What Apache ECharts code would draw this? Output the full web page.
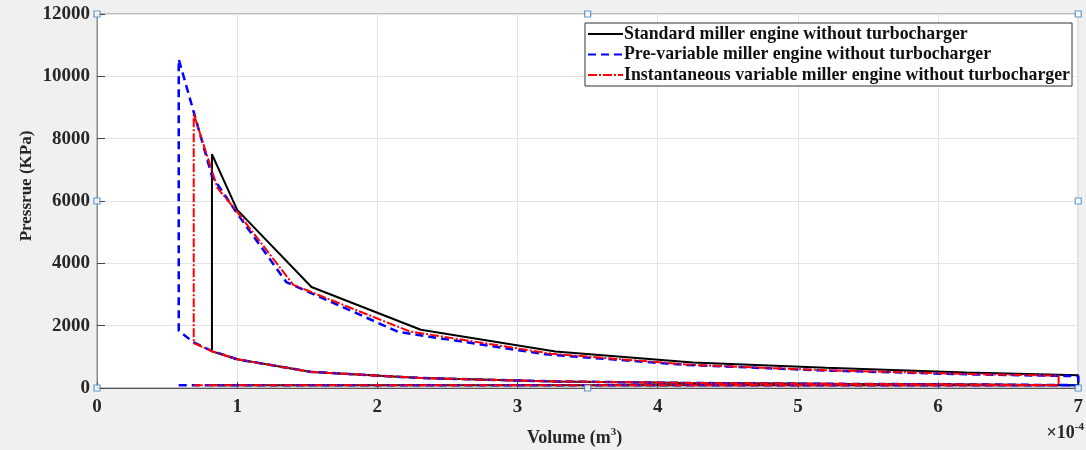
<!DOCTYPE html>
<html>
<head>
<meta charset="utf-8">
<script src="https://cdn.jsdelivr.net/npm/echarts@6/dist/echarts.min.js"></script>
<style>
html,body{margin:0;padding:0;background:#f0f0f0;}
#chart{width:1086px;height:450px;}
</style>
</head>
<body>
<div id="chart"></div>
<script>
// ---- Data (volume in units of 1e-4 m^3, pressure in kPa) ----
const seriesNames = [
  'Standard miller engine without turbocharger',
  'Pre-variable miller engine without turbocharger',
  'Instantaneous variable miller engine without turbocharger'
];
// Standard: intake line, compression, combustion, expansion, blowdown
const stdVolume   = [0.82, 7.0, 7.0, 6.2, 5.2, 4.25, 3.27, 2.31, 1.53, 1.0, 0.82, 0.82, 1.0, 1.53, 2.31, 3.27, 4.25, 5.2, 6.2, 7.0, 7.0];
const stdPressure = [90, 90, 100, 115, 135, 160, 210, 320, 515, 920, 1175, 7500, 5716, 3240, 1870, 1170, 820, 650, 500, 410, 90];
// Pre-variable
const preVolume   = [0.583, 7.0, 7.0, 6.2, 5.2, 4.25, 3.27, 2.31, 1.53, 1.0, 0.82, 0.69, 0.583, 0.583, 0.82, 1.0, 1.35, 2.15, 3.2, 4.2, 5.2, 6.2, 7.0, 7.0];
const prePressure = [90, 90, 100, 115, 135, 160, 210, 320, 515, 920, 1190, 1460, 1840, 10550, 6800, 5600, 3400, 1800, 1080, 740, 560, 440, 380, 90];
// Instantaneous variable
const insVolume   = [0.69, 6.86, 6.86, 6.2, 5.2, 4.25, 3.27, 2.31, 1.53, 1.0, 0.82, 0.69, 0.69, 0.86, 1.0, 1.40, 2.23, 3.24, 4.25, 5.2, 6.2, 6.86, 6.86];
const insPressure = [90, 90, 100, 115, 135, 160, 210, 320, 515, 920, 1180, 1443, 8795, 6410, 5650, 3310, 1815, 1100, 740, 570, 450, 395, 90];

const xTicks = [0, 1, 2, 3, 4, 5, 6, 7];
const yTicks = [0, 2000, 4000, 6000, 8000, 10000, 12000];

const xMin = xTicks[0], xMax = xTicks[xTicks.length - 1];
const yMin = yTicks[0], yMax = yTicks[yTicks.length - 1];

function pairs(xs, ys) { return xs.map((x, i) => [x, ys[i]]); }

// MATLAB-style selection handles at the box corners / edge midpoints
const xMid = (xMin + xMax) / 2, yMid = (yMin + yMax) / 2;
const handles = [
  [xMin, yMin], [xMid, yMin], [xMax, yMin],
  [xMin, yMid], [xMax, yMid],
  [xMin, yMax], [xMid, yMax], [xMax, yMax]
];

const FONT = 'Liberation Serif, "Times New Roman", serif';

const chart = echarts.init(document.getElementById('chart'));
chart.setOption({
  backgroundColor: '#f0f0f0',
  animation: false,
  grid: {
    left: 97, right: 5, top: 14, bottom: 62,
    show: true, backgroundColor: '#ffffff', borderColor: '#8a8a8a', borderWidth: 1
  },
  xAxis: {
    type: 'value', min: xMin, max: xMax, interval: 1,
    axisLine: { show: true, onZero: false, lineStyle: { color: '#555', width: 1 } },
    axisTick: { show: true, inside: true, length: 6, lineStyle: { color: '#444' } },
    axisLabel: { color: '#262626', fontFamily: FONT, fontWeight: 'bold', fontSize: 19, margin: 10,
                 formatter: v => String(v) },
    splitLine: { show: true, lineStyle: { color: '#e3e3e3', width: 1 } }
  },
  yAxis: {
    type: 'value', min: yMin, max: yMax, interval: 2000,
    axisLine: { show: true, lineStyle: { color: '#8a8a8a', width: 1 } },
    axisTick: { show: true, inside: true, length: 8, lineStyle: { color: '#444' } },
    axisLabel: { color: '#262626', fontFamily: FONT, fontWeight: 'bold', fontSize: 19, margin: 7,
                 formatter: v => String(v) },
    splitLine: { show: true, lineStyle: { color: '#e3e3e3', width: 1 } }
  },
  legend: {
    data: seriesNames,
    orient: 'vertical',
    right: 14, top: 23,
    backgroundColor: '#ffffff',
    borderColor: '#333333', borderWidth: 1, borderRadius: 0,
    padding: [2, 2, 2, 2],
    itemGap: 2.5,
    itemWidth: 35, itemHeight: 18,
    itemStyle: { color: 'transparent', borderWidth: 0, opacity: 0 },
    textStyle: { fontFamily: FONT, fontWeight: 'bold', fontSize: 17.8, color: '#111', padding: [0, 0, 0, -4] }
  },
  graphic: [
    { type: 'text', left: 527, top: 427,
      style: { rich: { n: { fontFamily: FONT, fontWeight: 'bold', fontSize: 18, fill: '#262626', verticalAlign: 'bottom' },
                        s: { fontFamily: FONT, fontWeight: 'bold', fontSize: 11, fill: '#262626', verticalAlign: 'bottom', padding: [0, 0, 9, 0] } },
               text: '{n|Volume (m}{s|3}{n|)}' } },
    { type: 'text', right: 2, top: 422,
      style: { rich: { n: { fontFamily: FONT, fontWeight: 'bold', fontSize: 18, fill: '#262626', verticalAlign: 'bottom' },
                        s: { fontFamily: FONT, fontWeight: 'bold', fontSize: 11, fill: '#262626', verticalAlign: 'bottom', padding: [0, 0, 9, 0] } },
               text: '{n|×10}{s|-4}' } },
    { type: 'text', x: 27, y: 186, rotation: Math.PI / 2,
      style: { text: 'Pressrue (KPa)', fontFamily: FONT, fontWeight: 'bold', fontSize: 17, fill: '#262626', align: 'center', verticalAlign: 'middle' } }
  ],
  series: [
    { name: seriesNames[0], type: 'line', data: pairs(stdVolume, stdPressure), showSymbol: false, symbol: 'none',
      lineStyle: { color: '#000000', width: 2, type: 'solid' }, itemStyle: { color: '#000000' }, z: 2 },
    { name: seriesNames[1], type: 'line', data: pairs(preVolume, prePressure), showSymbol: false, symbol: 'none',
      lineStyle: { color: '#0000ff', width: 2.5, type: [8, 5] }, itemStyle: { color: '#0000ff' }, z: 3 },
    { name: seriesNames[2], type: 'line', data: pairs(insVolume, insPressure), showSymbol: false, symbol: 'none',
      lineStyle: { color: '#ff0000', width: 2, type: [9, 2, 2, 2] }, itemStyle: { color: '#ff0000' }, z: 4 },
    { name: 'handles', type: 'scatter', data: handles, symbol: 'rect', symbolSize: 6, silent: true,
      itemStyle: { color: '#ffffff', borderColor: '#3a82c4', borderWidth: 1.2 }, z: 10, clip: false }
  ]
});
</script>
</body>
</html>
